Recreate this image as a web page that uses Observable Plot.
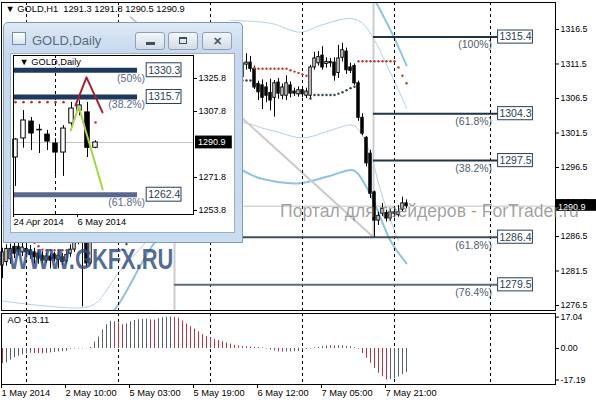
<!DOCTYPE html>
<html><head><meta charset="utf-8">
<script src="https://cdn.jsdelivr.net/npm/d3@7"></script>
<script src="https://cdn.jsdelivr.net/npm/@observablehq/plot@0.6"></script>
<style>
body{margin:0;background:#fff;}
#wrap{position:relative;width:596px;height:400px;overflow:hidden;background:#fff;font-family:"Liberation Sans",Arial,sans-serif;}
#wrap svg{display:block}
.btn{position:absolute;top:9px;width:30px;height:18px;box-sizing:border-box;border:1px solid #8d9fb5;border-radius:3px;background:linear-gradient(#f4f7fa,#d3dce7);}
</style></head><body><div id="wrap"></div>
<script>
// ---------------- DATA: H1 chart ----------------
const opens = [1282.3,1282.8,1283.2,1285.0,1285.0,1284.2,1284.7,1284.5,1284.2,1284.0,1283.7,1283.0,1283.6,1283.9,1283.1,1283.5,1282.9,1284.0,1284.6,1286.0,
1286.5,1286.0,1282.6,1298.8,1301.8,1302.9,1301.2,1302.0,1302.7,1301.6,1302.3,1302.1,1303.8,1305.1,1304.4,1305.0,1306.9,1307.6,1308.2,1307.0,
1307.7,1309.6,1309.1,1308.0,1308.9,1310.1,1309.6,1309.9,1310.4,1310.9,1310.2,1309.9,1310.8,1311.5,1311.0,1310.4,1310.7,1311.3,1310.5,1310.0,
1309.6,1311.4,1311.7,1310.8,1308.6,1308.4,1308.1,1307.3,1306.6,1308.8,1306.9,1306.9,1308.4,1307.5,1307.1,1307.7,1306.9,1306.9,1311.0,1311.6,
1312.7,1311.5,1311.8,1311.7,1310.2,1312.4,1313.3,1311.0,1311.2,1308.7,1303.7,1300.8,1298.5,1292.9,1288.8,1289.8,1289.9,1289.1,1289.8,1289.6,
1290.4,1291.3];
const highs = [1284.8,1285.3,1285.4,1285.6,1285.8,1285.5,1285.3,1285.2,1284.8,1284.4,1284.3,1284.1,1284.0,1284.2,1284.3,1284.0,1284.3,1285.3,1286.6,1287.2,
1287.5,1286.5,1299.5,1302.5,1304.0,1303.8,1302.4,1303.5,1303.1,1302.8,1303.0,1304.2,1305.6,1306.0,1305.3,1307.4,1308.3,1309.0,1308.9,1308.1,
1310.2,1311.0,1309.8,1309.2,1310.5,1311.3,1310.4,1310.8,1311.6,1311.4,1310.9,1311.2,1312.1,1312.3,1311.8,1311.1,1311.9,1312.0,1311.2,1310.7,
1312.4,1313.0,1312.6,1311.2,1309.0,1309.2,1308.8,1309.3,1309.1,1309.4,1308.6,1309.8,1308.9,1308.0,1308.2,1308.1,1308.0,1311.3,1313.2,1313.3,
1314.0,1312.4,1312.3,1312.4,1314.2,1314.5,1313.8,1311.6,1311.5,1309.0,1304.3,1301.0,1299.0,1293.1,1290.0,1291.3,1290.3,1290.4,1290.6,1291.0,
1292.2,1291.8];
const lows = [1280.4,1282.2,1282.5,1283.3,1283.7,1283.6,1283.5,1283.2,1282.5,1282.5,1282.5,1282.6,1281.8,1282.8,1281.8,1282.3,1282.5,1283.5,1284.2,1285.3,
1276.3,1282.0,1282.4,1297.5,1300.2,1300.6,1299.8,1301.1,1301.0,1300.9,1301.5,1301.8,1303.2,1303.9,1303.6,1304.6,1306.1,1306.8,1306.5,1305.9,
1307.3,1308.6,1307.5,1307.2,1308.4,1309.2,1308.5,1309.0,1309.7,1309.8,1309.4,1309.5,1310.3,1310.6,1310.0,1309.6,1310.2,1310.1,1309.4,1309.3,
1309.2,1310.6,1310.3,1307.8,1306.2,1304.9,1305.9,1304.7,1303.8,1306.4,1306.3,1306.2,1306.6,1306.8,1306.7,1306.6,1306.5,1306.5,1310.6,1311.2,
1310.6,1310.9,1311.0,1309.0,1309.4,1311.8,1310.0,1310.1,1308.4,1303.2,1301.1,1296.6,1292.0,1286.4,1288.1,1289.4,1288.6,1288.7,1289.2,1289.3,
1290.1,1290.5];
const closes = [1284.2,1284.7,1284.7,1284.0,1284.3,1284.9,1284.2,1283.8,1283.5,1283.3,1283.0,1283.6,1283.0,1283.2,1283.7,1282.8,1283.8,1284.6,1286.0,1286.5,
1286.0,1282.6,1298.8,1301.8,1302.9,1301.2,1302.0,1302.7,1301.6,1302.3,1302.1,1303.8,1305.1,1304.4,1305.0,1306.9,1307.6,1308.2,1307.0,1307.7,
1309.6,1309.1,1308.0,1308.9,1310.1,1309.6,1309.9,1310.4,1310.9,1310.2,1309.9,1310.8,1311.5,1311.0,1310.4,1310.7,1311.3,1310.5,1310.0,1309.6,
1311.6,1311.7,1310.8,1308.1,1307.4,1306.6,1306.9,1306.2,1308.7,1307.2,1308.1,1308.7,1307.2,1307.2,1307.7,1307.1,1307.5,1311.0,1312.3,1312.5,
1311.0,1311.8,1311.6,1309.8,1312.3,1313.5,1310.6,1310.5,1308.7,1303.7,1301.4,1297.1,1292.7,1288.8,1289.5,1290.5,1289.1,1290.0,1290.0,1290.0,
1291.3,1290.9];

// parabolic SAR dots
const sarRedI = [8,9,10,11,12,13,14,15,16, 63,64,65,66,67,68,69,70,71,72,73,74,75,76, 89,90,91,92,93,94,95,96,97,98,99,100,101];
const sarRedP = [1285.6,1285.1,1284.6,1284.5,1284.5,1284.5,1284.5,1284.5,1284.5,
 1310.9,1310.8,1310.8,1310.8,1310.8,1310.8,1310.8,1310.8,1310.8,1310.6,1310.4,1310.2,1310.0,1309.8,
 1311.9,1311.9,1311.9,1311.9,1311.9,1311.9,1311.9,1311.9,1311.9,1311.9,1311.0,1309.8,1308.7];
const sarDarkI = [30,31,32,33,34,35,36,37,38,39,40,41,42,43,44,45,46,47,48,49,50,51,52,53,54,55,56,57,58,59,60,61,62, 77,78,79,80,81,82,83,84,85,86,87,88];
const sarDarkP = [1284.6,1285.4,1286.4,1287.6,1289.0,1290.4,1291.8,1293.2,1294.6,1296.0,1297.3,1298.6,1299.8,1300.9,1302.0,1303.0,1304.0,1304.9,1305.7,1306.4,
 1307.0,1307.5,1308.0,1308.4,1308.7,1308.9,1309.1,1309.1,1309.1,1309.1,1309.1,1309.1,1309.1,
 1306.5,1307.0,1307.0,1307.0,1307.0,1307.0,1307.0,1307.2,1307.4,1307.7,1308.0,1308.2];

// envelope / band lines (bar index, price)
const upperThinI = [57,67,74.5,79.5,87,90,92.75,95.25,98.25,101];
const upperThinP = [1317.8,1317.4,1316.1,1317.1,1318.1,1317.4,1315.2,1312.3,1308.7,1305.1];
const lowerThinI = [-0.5,9.5,20.25,23.25,29.5,37,47,57,67,75.25,82,87.75,90.25,92.5,94.5,97.5,99];
const lowerThinP = [1277.2,1276.5,1276.2,1276.8,1281.6,1286.6,1296.1,1302.9,1301.9,1300.8,1301.9,1302.6,1300.8,1297.5,1293.2,1288.1,1285.9];
const lowerThickI = [24.5,28.25,37.5,47,57,64.5,73.75,82,87.75,90.75,93.25,97,101];
const lowerThickP = [1274.3,1276.1,1285.2,1291.7,1296.4,1294.9,1294.2,1295.3,1296.1,1293.9,1291.0,1285.9,1282.6];
const upperThickI = [92.5,97,101];
const upperThickP = [1321.4,1316.4,1311.3];
const trendI = [32,92.75];
const trendP = [1318.3,1286.4];

// Fibonacci levels
const fibAnchorA = 92.75, fibAnchorB = 43;
const fibALevels = [1315.4,1304.3,1297.5];
const fibAPct = ["(100%)","(61.8%)","(38.2%)"];
const fibBLevels = [1286.4,1279.5];
const fibBPct = ["(61.8%)","(76.4%)"];

// axes
const separators = [6,29,52,75,98,122];
const timeTickIdx = [0,16,32,48,64,80,96];
const timeTickLabels = ["1 May 2014","2 May 10:00","5 May 03:00","5 May 19:00","6 May 12:00","7 May 05:00","7 May 21:00"];
const priceTicks = [1276.5,1281.5,1286.5,1291.5,1296.5,1301.5,1306.5,1311.5,1316.5];

// Awesome Oscillator
const aoValues = [-8.3,-7.9,-6.3,-5.1,-4.2,-3.5,-3.0,-2.6,-2.75,-2.85,-2.95,-2.7,-2.4,-2.15,-1.95,-1.75,-1.5,-0.4,-0.3,-0.25,
-0.2,-0.15,0.5,3.4,6.2,10.1,12.9,14.7,14.5,13.8,12.9,13.3,14.5,15.2,15.6,15.8,15.9,15.6,15.4,16.2,
16.7,17.0,17.04,16.8,16.4,14.9,13.3,11.8,10.5,9.0,7.5,6.4,5.7,5.0,4.3,3.7,3.0,2.4,1.7,1.3,
1.1,0.9,0.8,0.6,0.45,0.3,-0.3,-0.9,-1.4,-1.8,-2.0,-1.95,-1.85,-1.75,-1.65,-0.9,-0.5,-0.2,0.3,0.6,
1.1,1.4,1.5,1.3,1.4,1.5,1.2,0.9,0.4,-0.5,-2.8,-5.4,-8.1,-10.9,-13.5,-15.4,-17.19,-16.9,-16.4,-15.5,
-14.3,-13.11];
const aoTicks = [17.04,0,-17.19];

// ---------------- DATA: Daily inset ----------------
const dailyOpen  = [1282.7,1293.1,1302.3,1297.5,1295.2,1290.3,1285.4,1301.3,1308.3,1307.3,1288.0];
const dailyHigh  = [1293.0,1308.3,1304.5,1300.6,1297.5,1293.0,1300.1,1312.7,1313.7,1312.7,1291.8];
const dailyLow   = [1266.9,1287.8,1286.5,1284.9,1286.5,1273.0,1272.4,1299.0,1305.5,1282.7,1287.5];
const dailyClose = [1292.5,1302.9,1295.8,1297.3,1291.4,1285.4,1298.5,1309.4,1311.1,1288.0,1290.9];
const dailySarI = [0,1,2,3,4,5,6,10];
const dailySarP = [1312.9,1312.9,1312.9,1312.9,1312.9,1312.9,1312.9,1301.8];
const zigI = [7.5,8.875,10.875];
const zigP = [1311.1,1326.4,1307.3];
const greenI = [6.9,7.9,10.9];
const greenP = [1297.4,1310.5,1265.2];
const dailyFibLevels = [1330.3,1315.7,1262.4];
const dailyFibPct = ["(50%)","(38.2%)","(61.8%)"];
const dailyTicks = [1325.8,1307.8,1271.8,1253.8];
const dailyTimeIdx = [0,8];
const dailyTimeLabels = ["24 Apr 2014","6 May 2014"];
const dailySeparator = [5];

// ---------------- BUILD ----------------
const FONT = '"Liberation Sans", Arial, sans-serif';
const pts = (I, P) => I.map((i, k) => ({i, p: P[k]}));
const last = opens.length - 1;
const lastClose = closes[last];
const candles = opens.map((o, i) => ({i, o, h: highs[i], l: lows[i], c: closes[i]}));
const bodyY2 = d => Math.abs(d.c - d.o) < 0.08 ? d.o + 0.08 : d.c;
const fibA = fibALevels.map((level, k) => ({level, pct: fibAPct[k]}));
const fibB = fibBLevels.map((level, k) => ({level, pct: fibBPct[k]}));
const fibAll = fibA.concat(fibB);
const boxX1 = 123.9, boxX2 = 132.6;

const main = Plot.plot({
  width: 596, height: 311, marginTop: 2, marginRight: 41, marginBottom: 1, marginLeft: 1,
  x: {type: "linear", domain: [-0.25, 138.25], axis: null},
  y: {type: "linear", domain: [1275.78, 1320.41], axis: null},
  style: {fontFamily: FONT, background: "transparent", color: "#000", overflow: "visible"},
  marks: [
    Plot.line(pts(lowerThinI, lowerThinP), {x: "i", y: "p", stroke: "#b2d1e3", strokeWidth: 1, curve: "catmull-rom", clip: true}),
    Plot.line(pts(upperThinI, upperThinP), {x: "i", y: "p", stroke: "#b2d1e3", strokeWidth: 1, curve: "catmull-rom", clip: true}),
    Plot.line(pts(lowerThickI, lowerThickP), {x: "i", y: "p", stroke: "#8ec3e2", strokeWidth: 2, curve: "catmull-rom", clip: true}),
    Plot.line(pts(upperThickI, upperThickP), {x: "i", y: "p", stroke: "#8ec3e2", strokeWidth: 2, curve: "catmull-rom", clip: true}),
    Plot.line(pts(trendI, trendP), {x: "i", y: "p", stroke: "#cacaca", strokeWidth: 2, clip: true}),
    Plot.ruleX([fibAnchorA], {x: d => d, y1: fibBLevels[0], y2: 1322, stroke: "#cccccc", strokeWidth: 2, clip: true}),
    Plot.ruleX([fibAnchorB], {x: d => d, y1: 1274, y2: fibBLevels[0], stroke: "#cccccc", strokeWidth: 2, clip: true}),
    Plot.ruleY([lastClose], {y: d => d, stroke: "#c4c4c4"}),
    Plot.ruleX(separators, {x: d => d, stroke: "#000", strokeDasharray: "3,3"}),
    Plot.ruleY(fibA, {y: "level", x1: fibAnchorA, x2: boxX1, stroke: "#1f3449", strokeWidth: 2}),
    Plot.ruleY([fibB[0]], {y: "level", x1: fibAnchorB, x2: boxX1, stroke: "#3e4c5b", strokeWidth: 2}),
    Plot.ruleY([fibB[1]], {y: "level", x1: fibAnchorB, x2: boxX1, stroke: "#5e6b78", strokeWidth: 2}),
    Plot.ruleX(candles, {x: "i", y1: "l", y2: "h", stroke: "#000", strokeWidth: 1}),
    Plot.rect(candles, {x1: d => d.i - 0.3, x2: d => d.i + 0.3, y1: "o", y2: bodyY2,
      fill: d => d.c >= d.o ? "#ffffff" : "#000000", stroke: "#000", strokeWidth: 1}),
    Plot.dot(pts(sarRedI, sarRedP), {x: "i", y: "p", r: 1.2, fill: "#c0392b", stroke: null}),
    Plot.dot(pts(sarDarkI, sarDarkP), {x: "i", y: "p", r: 1.2, fill: "#2f3f50", stroke: null}),
    Plot.text(fibAll, {x: 122.4, y: "level", text: "pct", textAnchor: "end", dy: 8, fill: "#4e5d6c", fontSize: 10.5}),
    Plot.rect(fibAll, {x1: boxX1, x2: boxX2, y1: d => d.level - 0.95, y2: d => d.level + 0.95, fill: "#fff", stroke: "#2b3e53", strokeWidth: 1}),
    Plot.text(fibAll, {x: (boxX1 + boxX2) / 2, y: "level", text: d => d.level.toFixed(1), fill: "#2b3e53", fontSize: 10.5}),
    Plot.text([candles[last]], {frameAnchor: "top-left", dx: 4, dy: 3, lineAnchor: "top", textAnchor: "start", fontSize: 9.3, fill: "#000",
      text: d => `\u25BC GOLD,H1  ${d.o.toFixed(1)} ${d.h.toFixed(1)} ${d.l.toFixed(1)} ${d.c.toFixed(1)}`}),
    Plot.frame({stroke: "#000"}),
    Plot.axisY({anchor: "right", label: null, ticks: priceTicks, tickFormat: d => d.toFixed(1), tickSize: 3, tickPadding: 2, fontSize: 8.8}),
    Plot.rect([lastClose], {x1: 138.5, x2: 148.6, y1: d => d - 0.75, y2: d => d + 0.95, fill: "#000"}),
    Plot.text([lastClose], {x: 138.9, y: d => d, dy: 1, text: d => d.toFixed(1), fill: "#fff", textAnchor: "start", fontSize: 9})
  ]
});

const aoData = aoValues.map((v, i) => ({i, v, col: (i > 0 && v > aoValues[i - 1]) ? "#56616c" : "#ad3a47"}));
const ao = Plot.plot({
  width: 596, height: 89, marginTop: 2, marginRight: 41, marginBottom: 16, marginLeft: 1,
  x: {type: "linear", domain: [-0.25, 138.25], axis: null},
  y: {type: "linear", domain: [-19.6, 19.0], axis: null},
  color: {type: "identity"},
  style: {fontFamily: FONT, background: "transparent", color: "#000"},
  marks: [
    Plot.ruleX(separators, {x: d => d, stroke: "#000", strokeDasharray: "3,3"}),
    Plot.ruleX(aoData, {x: "i", y1: 0, y2: "v", stroke: "col", strokeWidth: 1}),
    Plot.text([aoValues[last]], {frameAnchor: "top-left", dx: 6, dy: 3, lineAnchor: "top", textAnchor: "start", fontSize: 9.3,
      text: d => "AO " + d.toFixed(2)}),
    Plot.frame({stroke: "#000"}),
    Plot.axisY({anchor: "right", label: null, ticks: aoTicks, tickFormat: d => d.toFixed(2), tickSize: 3, tickPadding: 2, fontSize: 8.8}),
    Plot.axisX({anchor: "bottom", label: null, ticks: timeTickIdx, tickFormat: d => timeTickLabels[timeTickIdx.indexOf(d)],
      textAnchor: "start", tickSize: 4, tickPadding: 1, dx: -1, fontSize: 9.3})
  ]
});

// Daily inset chart
const daily = dailyOpen.map((o, k) => ({k, o, h: dailyHigh[k], l: dailyLow[k], c: dailyClose[k]}));
const dFib = dailyFibLevels.map((level, k) => ({level, pct: dailyFibPct[k]}));
const dLast = dailyClose[dailyClose.length - 1];
const inset = Plot.plot({
  width: 223, height: 175, marginTop: 1, marginRight: 42, marginBottom: 15, marginLeft: 1,
  x: {type: "linear", domain: [-0.25, 22.25], axis: null},
  y: {type: "linear", domain: [1251.6, 1338.35], axis: null},
  style: {fontFamily: FONT, background: "transparent", color: "#000", overflow: "visible"},
  marks: [
    Plot.ruleY([dLast], {y: d => d, stroke: "#c4c4c4"}),
    Plot.ruleX(dailySeparator, {x: d => d, stroke: "#000", strokeDasharray: "3,3"}),
    Plot.ruleY([dFib[0], dFib[1]], {y: "level", x1: -0.25, x2: 15.25, stroke: "#1d3a5e", strokeWidth: 5}),
    Plot.ruleY([dFib[2]], {y: "level", x1: -0.25, x2: 15.25, stroke: "#5a6890", strokeWidth: 5}),
    Plot.dot(pts(dailySarI, dailySarP), {x: "i", y: "p", r: 1.3, fill: "#c0392b", stroke: null}),
    Plot.ruleX(daily, {x: "k", y1: "l", y2: "h", stroke: "#000"}),
    Plot.rect(daily, {x1: d => d.k - 0.28, x2: d => d.k + 0.28, y1: "o", y2: d => Math.abs(d.c - d.o) < 0.3 ? d.o + 0.3 : d.c,
      fill: d => d.c >= d.o ? "#ffffff" : "#000000", stroke: "#000"}),
    Plot.line(pts(zigI, zigP), {x: "i", y: "p", stroke: "#a8202f", strokeWidth: 2}),
    Plot.line(pts(greenI, greenP), {x: "i", y: "p", stroke: "#a4d646", strokeWidth: 2}),
    Plot.text(dFib, {x: 16.2, y: "level", text: "pct", textAnchor: "end", dy: 8, fill: "#5a6888", fontSize: 10.5}),
    Plot.rect(dFib, {x1: 16.4, x2: 20.75, y1: d => d.level - 3.8, y2: d => d.level + 3.8, fill: "#fff", stroke: "#2b3e53"}),
    Plot.text(dFib, {x: 18.6, y: "level", text: d => d.level.toFixed(1), fill: "#2b3e53", fontSize: 10.5}),
    Plot.text(["\u25BC GOLD,Daily"], {frameAnchor: "top-left", dx: 6, dy: 3, lineAnchor: "top", textAnchor: "start", fontSize: 9.3}),
    Plot.frame({stroke: "#000"}),
    Plot.axisY({anchor: "right", label: null, ticks: dailyTicks, tickFormat: d => d.toFixed(1), tickSize: 3, tickPadding: 2, fontSize: 9}),
    Plot.rect([dLast], {x1: 22.5, x2: 27.1, y1: d => d - 3.5, y2: d => d + 3.5, fill: "#000"}),
    Plot.text([dLast], {x: 22.8, y: d => d, text: d => d.toFixed(1), fill: "#fff", textAnchor: "start", fontSize: 9}),
    Plot.axisX({anchor: "bottom", label: null, ticks: dailyTimeIdx, tickFormat: d => dailyTimeLabels[dailyTimeIdx.indexOf(d)],
      textAnchor: "start", tickSize: 3, tickPadding: 1, dx: -2, fontSize: 9.3})
  ]
});

// ---------------- LAYOUT ----------------
const wrap = document.getElementById("wrap");
function place(el, left, top, z) { el.style.position = "absolute"; el.style.left = left + "px"; el.style.top = top + "px"; el.style.zIndex = z; wrap.appendChild(el); }
place(main, 0, 0, 1);
place(ao, 0, 311, 1);

const wm1 = document.createElement("div");
wm1.textContent = "WWW.GKFX.RU";
Object.assign(wm1.style, {fontWeight: "bold", fontSize: "30px", lineHeight: "30px", color: "rgba(45,75,128,0.82)", transform: "scaleX(0.73)", transformOrigin: "left top", whiteSpace: "nowrap"});
place(wm1, 8, 244, 2);

const wm2 = document.createElement("div");
wm2.textContent = "Портал для трейдеров - ForTrader.ru";
Object.assign(wm2.style, {fontSize: "17.6px", lineHeight: "20px", color: "rgba(125,125,125,0.72)", whiteSpace: "nowrap"});
place(wm2, 280, 201, 2);

const win = document.createElement("div");
Object.assign(win.style, {width: "240px", height: "221px", boxSizing: "border-box", border: "1px solid #7f9cbc",
  borderRadius: "5px 5px 0 0", background: "linear-gradient(#dde9f6, #c6d9ee 30px, #c9dcf0)"});
win.innerHTML = `
 <div style="position:absolute;left:8px;top:9px;width:14px;height:13px;box-sizing:border-box;border:1px solid #6f90b3;background:linear-gradient(#ffffff,#d6e4f2);"></div>
 <div style="position:absolute;left:28px;top:10px;font-size:13px;line-height:15px;color:#5a6a7b;white-space:nowrap;">GOLD,Daily</div>
 <div class="btn" style="left:131px;"><div style="position:absolute;left:10px;top:9px;width:9px;height:3px;background:#3f4f60;"></div></div>
 <div class="btn" style="left:164px;"><div style="position:absolute;left:10px;top:4px;width:8px;height:7px;box-sizing:border-box;border:1px solid #3f4f60;border-top-width:2px;"></div></div>
 <div class="btn" style="left:198px;text-align:center;font-size:11px;line-height:16px;color:#4a5868;font-weight:bold;">\u2715</div>
 <div style="position:absolute;left:6px;top:30px;width:225px;height:180px;box-sizing:border-box;border:1px solid #9aafc9;background:#fff;"></div>`;
place(win, 3, 22, 3);
place(inset, 12, 54, 4);
</script></body></html>
